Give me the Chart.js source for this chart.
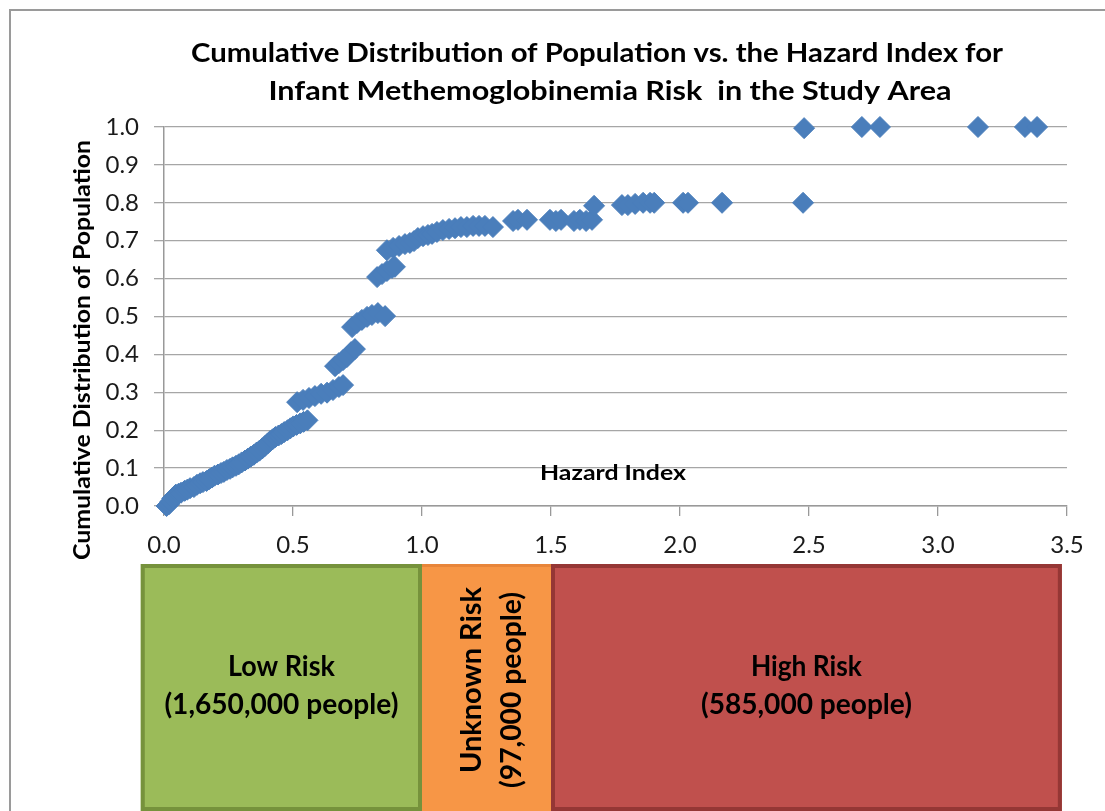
<!DOCTYPE html>
<html>
<head>
<meta charset="utf-8">
<title>Cumulative Distribution of Population vs. the Hazard Index</title>
<script src="https://cdn.jsdelivr.net/npm/chart.js@4.4.1/dist/chart.umd.min.js"></script>
<style>
  html, body { margin: 0; padding: 0; background: #ffffff; }
  canvas { display: block; }
</style>
</head>
<body>
<canvas id="hazardChart" width="1105" height="811"></canvas>
<script>
// Hazard index of each population group (x) and the cumulative share of population (y)
const hazardIndex = [
  0.010, 0.020, 0.025, 0.032, 0.040, 0.046, 0.056, 0.066, 0.080, 0.090,
  0.101, 0.116, 0.128, 0.140, 0.151, 0.165, 0.176, 0.186, 0.196, 0.209,
  0.221, 0.232, 0.244, 0.256, 0.266, 0.279, 0.290, 0.301, 0.314, 0.325,
  0.336, 0.348, 0.359, 0.370, 0.381, 0.391, 0.402, 0.411, 0.421, 0.432,
  0.444, 0.455, 0.466, 0.479, 0.490, 0.501, 0.514, 0.528, 0.541, 0.556,
  0.516, 0.539, 0.562, 0.585, 0.609, 0.632, 0.655, 0.678, 0.694,
  0.663, 0.678, 0.694, 0.709, 0.725, 0.740,
  0.729, 0.748, 0.767, 0.787, 0.806, 0.829, 0.857,
  0.826, 0.845, 0.864, 0.884, 0.895,
  0.864, 0.888, 0.911, 0.934, 0.953, 0.969,
  0.984, 1.004, 1.023, 1.039,
  1.058, 1.081, 1.105, 1.128, 1.151, 1.174, 1.198, 1.221, 1.244, 1.275,
  1.353, 1.372, 1.407, 1.496, 1.519, 1.539, 1.589, 1.612, 1.636, 1.659,
  1.667, 1.775, 1.798, 1.826, 1.857, 1.884, 1.900, 2.012, 2.031, 2.163, 2.477,
  2.481, 2.705, 2.775, 3.155, 3.337, 3.384
];
const cumulativeShare = [
  0.000, 0.005, 0.012, 0.020, 0.025, 0.030, 0.032, 0.035, 0.040, 0.043,
  0.047, 0.050, 0.056, 0.060, 0.063, 0.066, 0.071, 0.075, 0.080, 0.083,
  0.087, 0.090, 0.095, 0.098, 0.102, 0.106, 0.110, 0.115, 0.120, 0.125,
  0.130, 0.135, 0.141, 0.146, 0.152, 0.158, 0.165, 0.171, 0.176, 0.182,
  0.186, 0.190, 0.195, 0.200, 0.205, 0.210, 0.214, 0.218, 0.222, 0.226,
  0.274, 0.280, 0.285, 0.290, 0.296, 0.299, 0.306, 0.314, 0.319,
  0.369, 0.377, 0.385, 0.393, 0.406, 0.414,
  0.472, 0.483, 0.491, 0.499, 0.504, 0.509, 0.501,
  0.604, 0.612, 0.620, 0.628, 0.631,
  0.675, 0.681, 0.686, 0.691, 0.694, 0.699,
  0.707, 0.712, 0.715, 0.718,
  0.723, 0.728, 0.731, 0.733, 0.736, 0.736, 0.739, 0.739, 0.739, 0.736,
  0.752, 0.755, 0.755, 0.755, 0.752, 0.755, 0.752, 0.755, 0.752, 0.755,
  0.792, 0.794, 0.794, 0.797, 0.800, 0.800, 0.800, 0.800, 0.800, 0.800, 0.800,
  0.997, 1.000, 1.000, 1.000, 1.000, 1.000
];

// Axis tick labels
const xTickLabels = ['0.0', '0.5', '1.0', '1.5', '2.0', '2.5', '3.0', '3.5'];
const yTickLabels = ['0.0', '0.1', '0.2', '0.3', '0.4', '0.5', '0.6', '0.7', '0.8', '0.9', '1.0'];

// Risk bands along the hazard index axis
const riskNames  = ['Low Risk', 'Unknown Risk', 'High Risk'];
const riskPeople = ['(1,650,000 people)', '(97,000 people)', '(585,000 people)'];
const riskFrom   = [-0.09, 1.0, 1.5];
const riskTo     = [1.0, 1.5, 3.48];

const titleLines = ['Cumulative Distribution of Population vs. the Hazard Index for',
                    'Infant Methemoglobinemia Risk  in the Study Area'];
const yAxisTitle = 'Cumulative Distribution of Population';
const xAxisTitle = 'Hazard Index';

const points = hazardIndex.map((x, i) => ({ x: x, y: cumulativeShare[i] }));

// Draws a text line stretched or squeezed to a given width
function drawFitted(ctx, text, x, y, width, font, angle) {
  ctx.save();
  ctx.font = font;
  const w = ctx.measureText(text).width;
  ctx.translate(x, y);
  if (angle) ctx.rotate(angle);
  ctx.scale(width / w, 1);
  ctx.textAlign = 'center';
  ctx.textBaseline = 'alphabetic';
  ctx.fillStyle = '#000000';
  ctx.fillText(text, 0, 0);
  ctx.restore();
}

const framePlugin = {
  id: 'frame',
  beforeDraw(chart) {
    const ctx = chart.ctx;
    ctx.save();
    ctx.fillStyle = '#ffffff';
    ctx.fillRect(0, 0, chart.width, chart.height);
    ctx.strokeStyle = '#9a9a9a';
    ctx.lineWidth = 2;
    ctx.beginPath();
    ctx.moveTo(10, chart.height + 2);
    ctx.lineTo(10, 10);
    ctx.lineTo(chart.width + 2, 10);
    ctx.stroke();
    ctx.restore();
  }
};

// Fill and outline of each band; the middle band only carries a thin top edge
const bandStyles = [
  { fill: '#9bbb59', stroke: '#76923c', full: true },
  { fill: '#f79646', stroke: '#e8853a', full: false },
  { fill: '#c0504d', stroke: '#953735', full: true }
];

const annotationPlugin = {
  id: 'annotations',
  afterDraw(chart) {
    const ctx = chart.ctx;
    const xs = chart.scales.x;

    // Chart title
    drawFitted(ctx, titleLines[0], 597, 62, 812, 'bold 26px Lato');
    drawFitted(ctx, titleLines[1], 610, 100, 683, 'bold 26px Lato');

    // Axis titles
    drawFitted(ctx, yAxisTitle, 90, 350, 420, 'bold 22px Lato', -Math.PI / 2);
    drawFitted(ctx, xAxisTitle, 613, 480, 146, 'bold 20px Lato');

    // Risk bands below the axis
    const top = 564, bottom = 811;
    [1, 0, 2].forEach(i => {
      const left = xs.getPixelForValue(riskFrom[i]);
      const right = xs.getPixelForValue(riskTo[i]);
      const st = bandStyles[i];
      ctx.save();
      ctx.fillStyle = st.fill;
      ctx.fillRect(left, top, right - left, bottom - top);
      ctx.strokeStyle = st.stroke;
      if (st.full) {
        ctx.lineWidth = 4;
        ctx.strokeRect(left + 2, top + 2, right - left - 4, bottom - top - 4);
      } else {
        ctx.lineWidth = 3;
        ctx.beginPath();
        ctx.moveTo(left, top + 1.5);
        ctx.lineTo(right, top + 1.5);
        ctx.stroke();
      }
      ctx.restore();
    });

    const widths = [[107, 234], [186, 196], [111, 211]];
    [0, 2].forEach(i => {
      const cx = xs.getPixelForValue((riskFrom[i] + riskTo[i]) / 2);
      drawFitted(ctx, riskNames[i], cx, 676, widths[i][0], 'bold 29px Lato');
      drawFitted(ctx, riskPeople[i], cx, 714, widths[i][1], 'bold 29px Lato');
    });
    const ucx = xs.getPixelForValue((riskFrom[1] + riskTo[1]) / 2);
    drawFitted(ctx, riskNames[1], ucx - 6, 680, widths[1][0], 'bold 29px Lato', -Math.PI / 2);
    drawFitted(ctx, riskPeople[1], ucx + 34, 690, widths[1][1], 'bold 29px Lato', -Math.PI / 2);
  }
};

new Chart(document.getElementById('hazardChart'), {
  type: 'scatter',
  data: {
    datasets: [{
      data: points,
      pointStyle: 'rectRot',
      pointRadius: 10.5,
      pointHoverRadius: 10.5,
      backgroundColor: '#4a7ebb',
      borderColor: '#4a7ebb',
      borderWidth: 1,
      clip: false
    }]
  },
  options: {
    responsive: false,
    devicePixelRatio: 1,
    animation: false,
    events: [],
    layout: { padding: { left: 0, top: 127, right: 38, bottom: 0 } },
    plugins: {
      legend: { display: false },
      tooltip: { enabled: false },
      title: { display: false }
    },
    scales: {
      x: {
        type: 'linear',
        min: 0,
        max: 3.5,
        afterFit(scale) { scale.height = 305; },
        afterBuildTicks(scale) {
          scale.ticks = xTickLabels.map(v => ({ value: parseFloat(v) }));
        },
        ticks: {
          callback: (v, i) => xTickLabels[i],
          font: { family: 'Lato', size: 24 },
          color: '#1a1a1a',
          padding: 15,
          maxRotation: 0
        },
        grid: {
          drawOnChartArea: false,
          drawTicks: true,
          tickLength: 10,
          color: '#999999',
          lineWidth: 1.3
        },
        border: { display: true, color: '#999999', width: 1.5 }
      },
      y: {
        type: 'linear',
        min: 0,
        max: 1,
        afterFit(scale) { scale.width = 164; },
        afterBuildTicks(scale) {
          scale.ticks = yTickLabels.map(v => ({ value: parseFloat(v) }));
        },
        ticks: {
          callback: (v, i) => yTickLabels[i],
          font: { family: 'Lato', size: 24 },
          color: '#1a1a1a',
          padding: 15
        },
        grid: {
          drawTicks: true,
          tickLength: 10,
          color: '#a6a6a6',
          lineWidth: 1.3
        },
        border: { display: true, color: '#999999', width: 1.5 }
      }
    }
  },
  plugins: [framePlugin, annotationPlugin]
});
</script>
</body>
</html>
